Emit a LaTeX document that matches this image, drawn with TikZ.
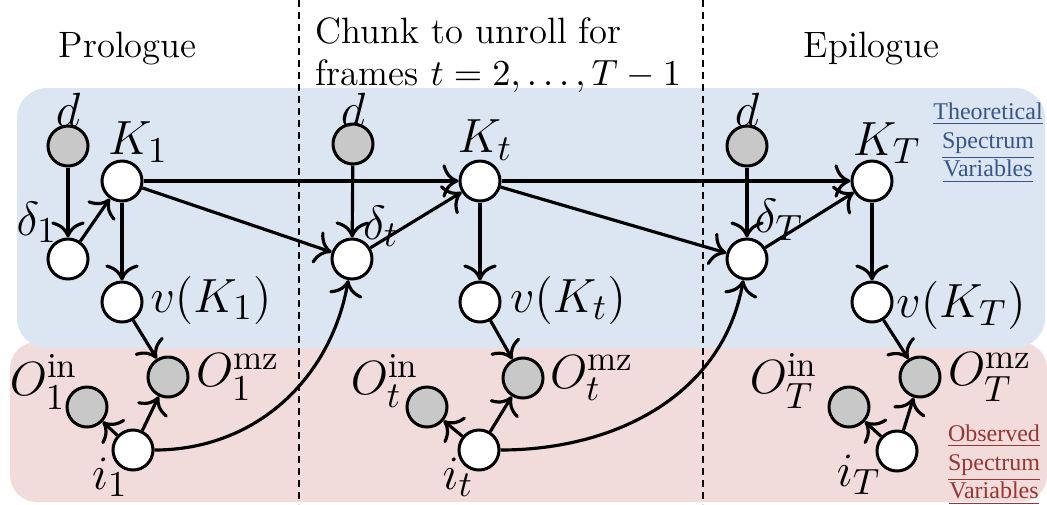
\documentclass[tikz,border=0pt]{standalone}
\usepackage{amsmath}
\usepackage{fontspec}
\usepackage{tikz}
\usetikzlibrary{arrows.meta}
\newfontfamily\notefont{Liberation Serif}
\definecolor{thblue}{RGB}{220,230,242}
\definecolor{obpink}{RGB}{242,220,219}
\definecolor{thtext}{RGB}{55,85,135}
\definecolor{obtext}{RGB}{149,55,53}
\definecolor{obsgray}{RGB}{200,200,200}

\begin{document}
\begin{tikzpicture}[x=0.3pt,y=-0.3pt,
  var/.style={circle, draw, line width=0.9pt, fill=white, minimum size=12pt, inner sep=0pt},
  obs/.style={var, fill=obsgray},
  lbl/.style={inner sep=0pt, font=\fontsize{15}{18}\selectfont},
  head/.style={inner sep=0pt, font=\fontsize{11}{12.6}\selectfont},
  note/.style={inner sep=0pt, align=center, font=\notefont\fontsize{7.2}{8.6}\selectfont},
  sep/.style={dash pattern=on 2.2pt off 1.4pt, line width=0.55pt},
  edge/.style={-{To[scale=1.3]}, line width=0.95pt}]
\useasboundingbox (0,0) rectangle (1047,504);
% Shaded regions
\fill[obpink] (10,342) [rounded corners=8pt] rectangle (1047,502);
\fill[thblue] (17,88) [rounded corners=9pt] rectangle (1045,348);
% Frame separators
\draw[sep] (299,0) -- (299,504);
\draw[sep] (703,0) -- (703,504);
% Headings
\node[head, anchor=base west] (hpro) at (58,57) {Prologue};
\node[head, anchor=base west] (hepi) at (803,57) {Epilogue};
\node[head, anchor=base west] (hch1) at (315,43) {Chunk to unroll for};
\node[head, anchor=base west] (hch2) at (315,85) {frames $t=2,\ldots,T-1$};
\node[note, text=thtext] (nth) at (988,143) {\underline{Theoretical}\\\underline{Spectrum}\\\underline{Variables}};
\node[note, text=obtext] (nob) at (994,465) {\underline{Observed}\\\underline{Spectrum}\\\underline{Variables}};
% Prologue
\node[obs] (d1) at (68,146) {};
\node[var] (del1) at (68,259) {};
\node[var] (K1) at (122,181) {};
\node[var] (v1) at (122,302) {};
\node[obs] (Omz1) at (168,377) {};
\node[obs] (Oin1) at (87,407) {};
\node[var] (i1) at (133,450) {};
% Chunk
\node[obs] (dt) at (353,144) {};
\node[var] (delt) at (352,259) {};
\node[var] (Kt) at (480,181) {};
\node[var] (vt) at (480,302) {};
\node[obs] (Omzt) at (523,378) {};
\node[obs] (Oint) at (427,407) {};
\node[var] (it) at (479,450) {};
% Epilogue
\node[obs] (dT) at (747,146) {};
\node[var] (delT) at (747,259) {};
\node[var] (KT) at (872,181) {};
\node[var] (vT) at (872,302) {};
\node[obs] (OmzT) at (920,377) {};
\node[obs] (OinT) at (849,407) {};
\node[var] (iT) at (897,451) {};
% Labels
\node[lbl] (ld1) at (68,110) {$d$};
\node[lbl] (ldel1) at (37,222) {$\delta_1$};
\node[lbl] (lK1) at (138,142) {$K_1$};
\node[lbl] (lv1) at (211,300) {$v(K_1)$};
\node[lbl] (lOmz1) at (238,377) {$O_1^{\text{mz}}$};
\node[lbl] (lOin1) at (44,382) {$O_1^{\text{in}}$};
\node[lbl] (li1) at (110,477) {$i_1$};
\node[lbl] (ldt) at (353,110) {$d$};
\node[lbl] (ldelt) at (381,226) {$\delta_t$};
\node[lbl] (lKt) at (485,140) {$K_t$};
\node[lbl] (lvt) at (568,300) {$v(K_t)$};
\node[lbl] (lOmzt) at (592,378) {$O_t^{\text{mz}}$};
\node[lbl] (lOint) at (385,381) {$O_t^{\text{in}}$};
\node[lbl] (lit) at (458,477) {$i_t$};
\node[lbl] (ldT) at (747,110) {$d$};
\node[lbl] (ldelT) at (779,220) {$\delta_T$};
\node[lbl] (lKT) at (887,143) {$K_T$};
\node[lbl] (lvT) at (961,305) {$v(K_T)$};
\node[lbl] (lOmzT) at (990,377) {$O_T^{\text{mz}}$};
\node[lbl] (lOinT) at (784,381) {$O_T^{\text{in}}$};
\node[lbl] (liT) at (859,475) {$i_T$};
% Connections
\draw[edge] (d1) -- (del1);
\draw[edge] (del1) -- (K1);
\draw[edge] (K1) -- (v1);
\draw[edge] (K1) -- (Kt);
\draw[edge] (K1) -- (delt);
\draw[edge] (v1) -- (Omz1);
\draw[edge] (i1) -- (Oin1);
\draw[edge] (i1) -- (Omz1);
\draw[edge] (i1) to[out=0, in=-100] (delt);
\draw[edge] (dt) -- (delt);
\draw[edge] (delt) -- (Kt);
\draw[edge] (Kt) -- (vt);
\draw[edge] (Kt) -- (KT);
\draw[edge] (Kt) -- (delT);
\draw[edge] (vt) -- (Omzt);
\draw[edge] (it) -- (Oint);
\draw[edge] (it) -- (Omzt);
\draw[edge] (it) to[out=0, in=-100] (delT);
\draw[edge] (dT) -- (delT);
\draw[edge] (delT) -- (KT);
\draw[edge] (KT) -- (vT);
\draw[edge] (vT) -- (OmzT);
\draw[edge] (iT) -- (OinT);
\draw[edge] (iT) -- (OmzT);
\end{tikzpicture}
\end{document}
